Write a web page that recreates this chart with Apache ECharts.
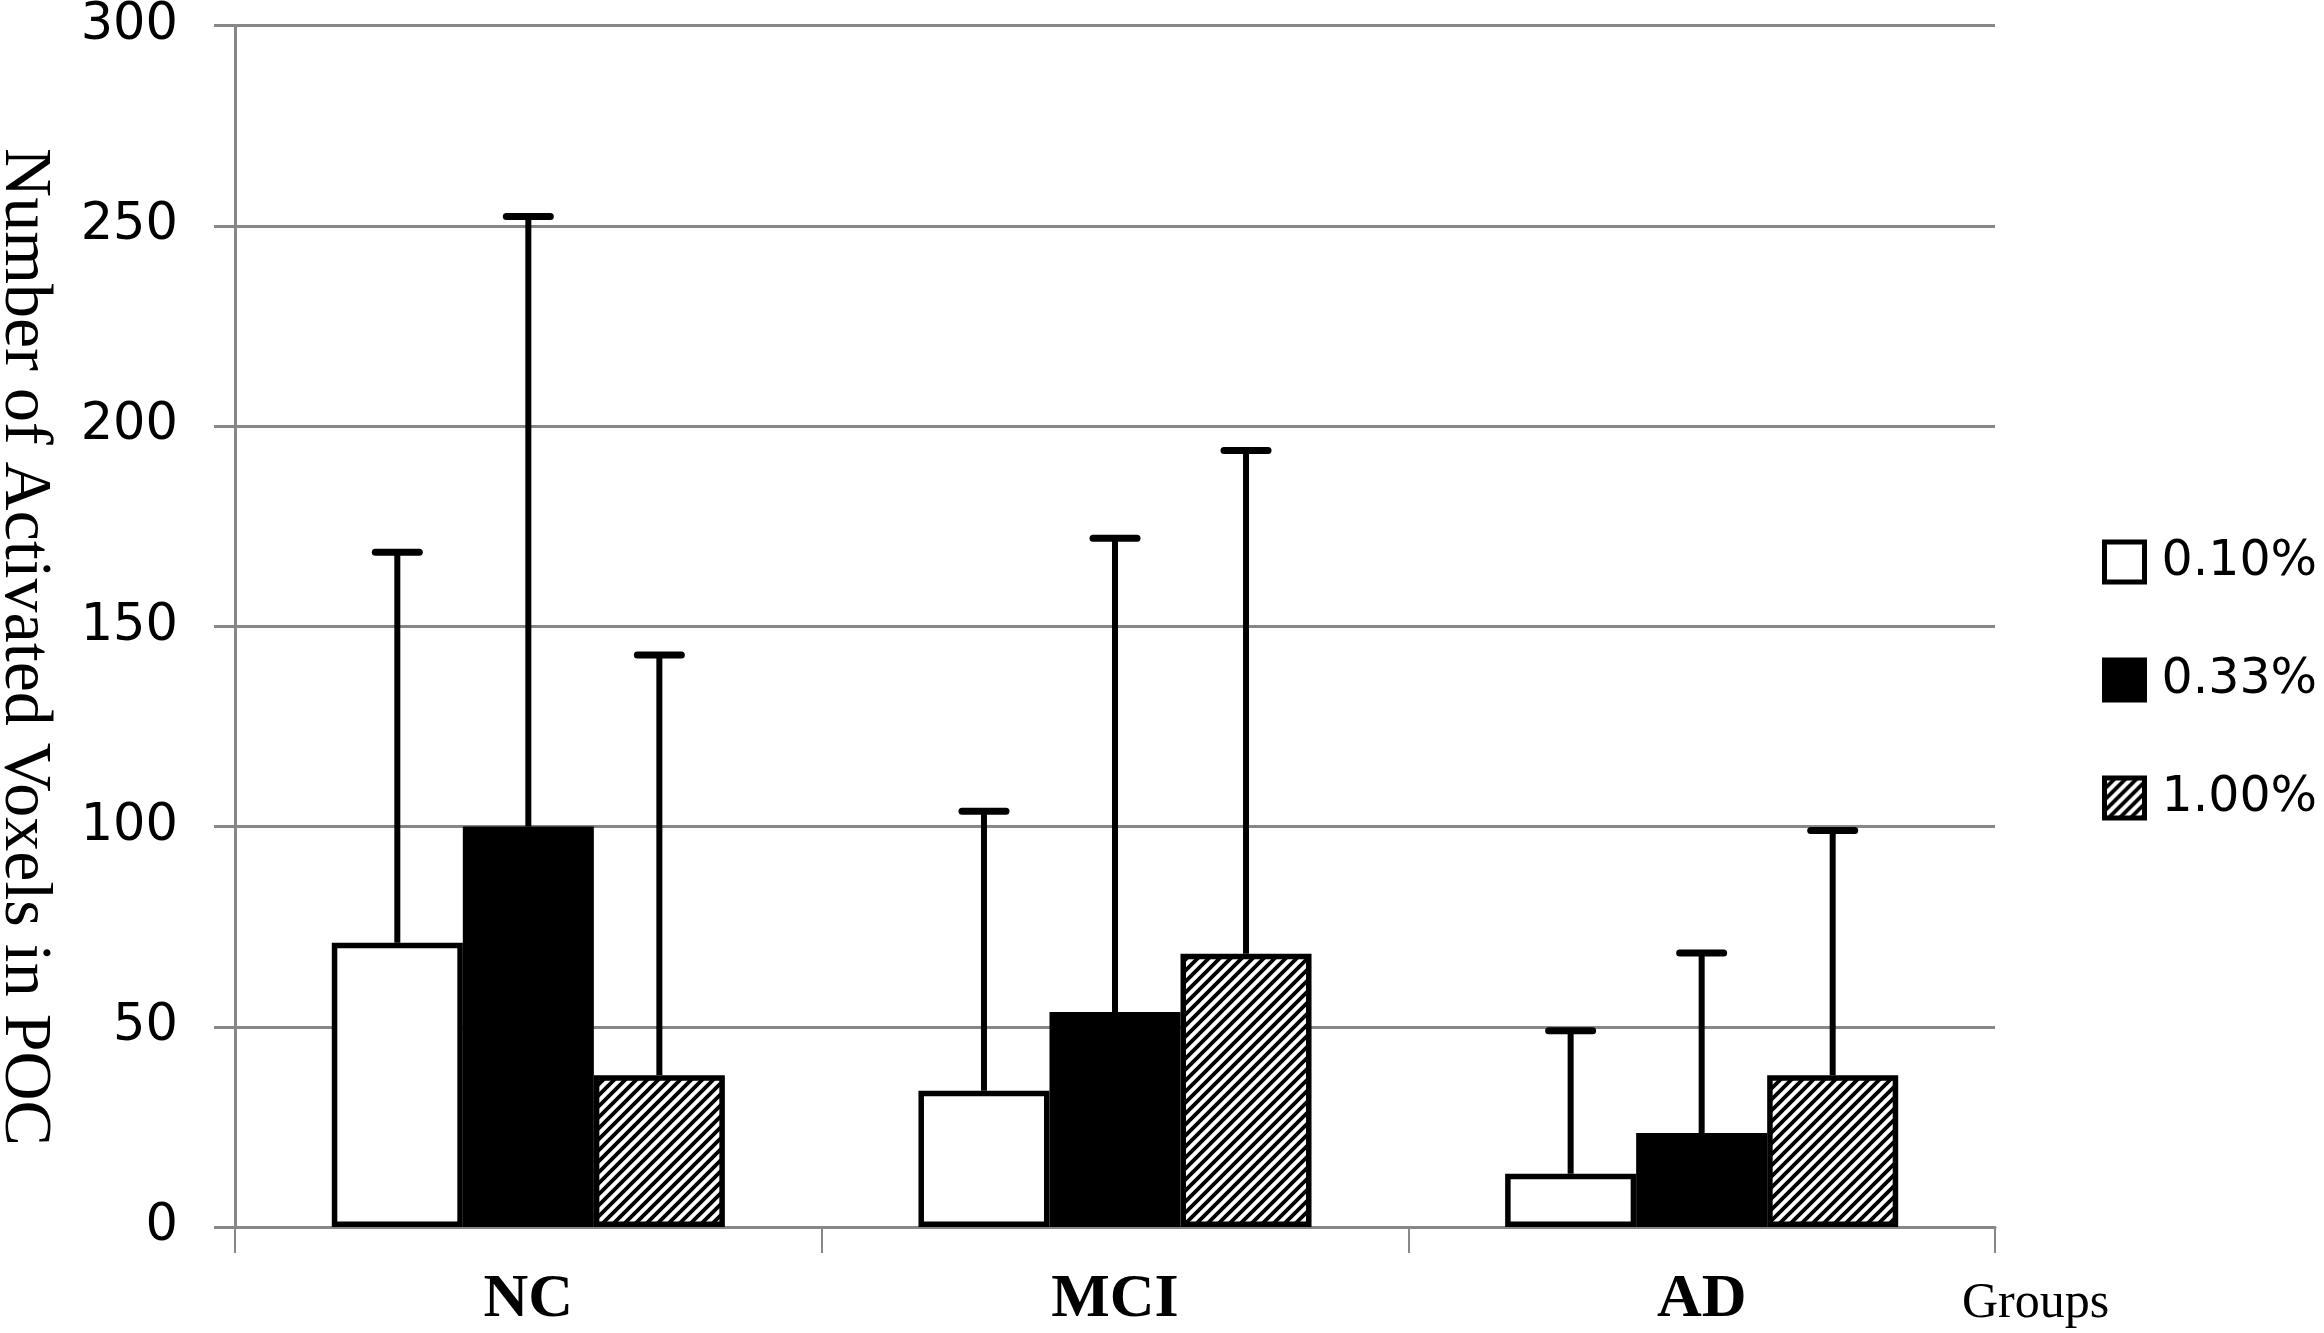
<!DOCTYPE html>
<html>
<head>
<meta charset="utf-8">
<script src="https://cdn.jsdelivr.net/npm/echarts@6/dist/echarts.min.js"></script>
<style>
  html, body { margin: 0; padding: 0; background: #fff; }
  #chart { width: 2324px; height: 1333px; }
</style>
</head>
<body>
<div id="chart"></div>
<script>
// 数据
const groups = ['NC', 'MCI', 'AD'];
const seriesNames = ['0.10%', '0.33%', '1.00%'];
const mean010 = [71, 34, 13.3];
const mean033 = [100, 53.7, 23.5];
const mean100 = [37.9, 68.2, 37.9];
// 误差线上端（均值 + SD）
const upper010 = [168.5, 103.8, 49];
const upper033 = [252.3, 172, 68.4];
const upper100 = [142.8, 193.9, 99];
const yTicks = [0, 50, 100, 150, 200, 250, 300];

const means = [mean010, mean033, mean100];
const uppers = [upper010, upper033, upper100];

const GRID_GRAY = '#878787';
const CAT_GAP = 0.33;

// 斜线填充
function hatchPattern() {
  const s = 11;
  const c = document.createElement('canvas');
  c.width = s; c.height = s;
  const ctx = c.getContext('2d');
  ctx.fillStyle = '#fff';
  ctx.fillRect(0, 0, s, s);
  ctx.strokeStyle = '#000';
  ctx.lineWidth = 3.8;
  ctx.beginPath();
  ctx.moveTo(0, s); ctx.lineTo(s, 0);
  ctx.moveTo(-s / 2, s / 2); ctx.lineTo(s / 2, -s / 2);
  ctx.moveTo(s / 2, s * 1.5); ctx.lineTo(s * 1.5, s / 2);
  ctx.stroke();
  return c;
}

const fills = ['#fff', '#000', { image: hatchPattern(), repeat: 'repeat' }];

// 误差线
function errRenderer(k) {
  return function (params, api) {
    const ci = api.value(0);
    const base = api.coord([ci, api.value(1)]);
    const top = api.coord([ci, api.value(2)]);
    const band = api.size([1, 0])[0];
    const bw = band * (1 - CAT_GAP) / 3;
    const x = base[0] + (k - 1) * bw;
    return {
      type: 'group',
      children: [
        { type: 'line', shape: { x1: x, y1: base[1], x2: x, y2: top[1] },
          style: { stroke: '#000', lineWidth: 6 } },
        { type: 'line', shape: { x1: x - 22, y1: top[1], x2: x + 22, y2: top[1] },
          style: { stroke: '#000', lineWidth: 7, lineCap: 'round' } }
      ]
    };
  };
}

const series = [];
seriesNames.forEach((name, k) => {
  series.push({
    name: name,
    type: 'bar',
    data: means[k],
    barGap: '0%',
    barCategoryGap: (CAT_GAP * 100) + '%',
    itemStyle: { color: fills[k], borderColor: '#000', borderWidth: 5.5 }
  });
});
seriesNames.forEach((name, k) => {
  series.push({
    name: 'err ' + name,
    type: 'custom',
    renderItem: errRenderer(k),
    data: groups.map((g, i) => [i, means[k][i], uppers[k][i]]),
    z: 3
  });
});

const chart = echarts.init(document.getElementById('chart'));
const option = {
  animation: false,
  backgroundColor: '#fff',
  grid: { left: 235, right: 329, top: 22, bottom: 106 },
  legend: {
    data: seriesNames.map(n => ({
      name: n, icon: 'rect',
      itemStyle: { borderColor: '#000', borderWidth: 5 }
    })),
    orient: 'vertical',
    left: 2097,
    top: 532,
    itemWidth: 40,
    itemHeight: 40,
    itemGap: 68,
    textStyle: {
      fontFamily: 'DejaVu Sans', fontSize: 49, color: '#000',
      lineHeight: 50, padding: [0, 0, 0, 12]
    }
  },
  xAxis: {
    type: 'category',
    data: groups,
    axisLine: { lineStyle: { color: GRID_GRAY, width: 3 } },
    axisTick: { show: true, length: 26, interval: 0, lineStyle: { color: GRID_GRAY, width: 2 } },
    axisLabel: {
      fontFamily: 'Liberation Serif', fontWeight: 'bold', fontSize: 62,
      color: '#000', margin: 42
    }
  },
  yAxis: {
    type: 'value',
    min: yTicks[0],
    max: yTicks[yTicks.length - 1],
    interval: 50,
    axisLine: { show: true, lineStyle: { color: GRID_GRAY, width: 3 } },
    axisTick: { show: true, length: 21, lineStyle: { color: GRID_GRAY, width: 3 } },
    splitLine: { lineStyle: { color: GRID_GRAY, width: 3 } },
    axisLabel: { fontFamily: 'DejaVu Sans', fontSize: 51, color: '#000', margin: 57 }
  },
  graphic: [
    {
      type: 'text',
      x: 24, y: 647,
      rotation: -Math.PI / 2,
      style: {
        text: 'Number of Activated Voxels in POC',
        fontFamily: 'Liberation Serif', fontSize: 68, fill: '#000',
        align: 'center', verticalAlign: 'middle'
      }
    },
    {
      type: 'text',
      x: 1962, y: 1304,
      style: {
        text: 'Groups',
        fontFamily: 'Liberation Serif', fontSize: 50, fill: '#000',
        align: 'left', verticalAlign: 'middle'
      }
    }
  ],
  series: series
};
chart.setOption(option);
</script>
</body>
</html>
